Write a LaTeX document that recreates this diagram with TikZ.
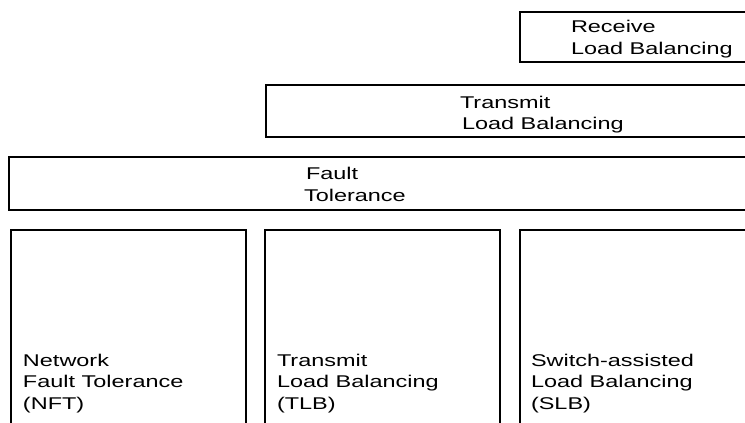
\documentclass[tikz,border=0pt]{standalone}
\usepackage{fontspec}
\setmainfont{Liberation Sans}[FakeStretch=1.38]
\begin{document}
\begin{tikzpicture}[x=1pt,y=-1pt,
  box/.style={draw=black, line width=1.5pt, fill=none, inner sep=0pt, outer sep=0pt, anchor=north west},
  lbl/.style={inner sep=0pt, outer sep=0pt, anchor=base west, align=left, text=black,
              font=\fontsize{17}{21.5}\selectfont}]
\useasboundingbox (0,0) rectangle (745,423);
\clip (0,0) rectangle (745,423);
% upper boxes (extend beyond the right edge)
\node[box, minimum width=260pt, minimum height=50pt] (rlb) at (520,12) {};
\node[box, minimum width=500pt, minimum height=52pt] (tlbtop) at (266,85) {};
\node[box, minimum width=760pt, minimum height=53pt] (ft) at (9,157) {};
% lower boxes (extend beyond the bottom edge)
\node[box, minimum width=235pt, minimum height=220pt] (nft) at (11,230) {};
\node[box, minimum width=235pt, minimum height=220pt] (tlb) at (265,230) {};
\node[box, minimum width=260pt, minimum height=220pt] (slb) at (520,230) {};
% labels
\node[lbl] (trlb) at (571,54) {Receive\\Load Balancing};
\node[lbl] (ttlbtop) at (460,129.5) {Transmit\\\hspace{2pt}Load Balancing};
\node[lbl] (tft) at (304,201) {\hspace{2pt}Fault\\Tolerance};
\node[lbl] (tnft) at (23,409) {Network\\Fault Tolerance\\(NFT)};
\node[lbl] (ttlb) at (277,409) {Transmit\\Load Balancing\\(TLB)};
\node[lbl] (tslb) at (531,409) {Switch-assisted\\Load Balancing\\(SLB)};
\end{tikzpicture}
\end{document}
